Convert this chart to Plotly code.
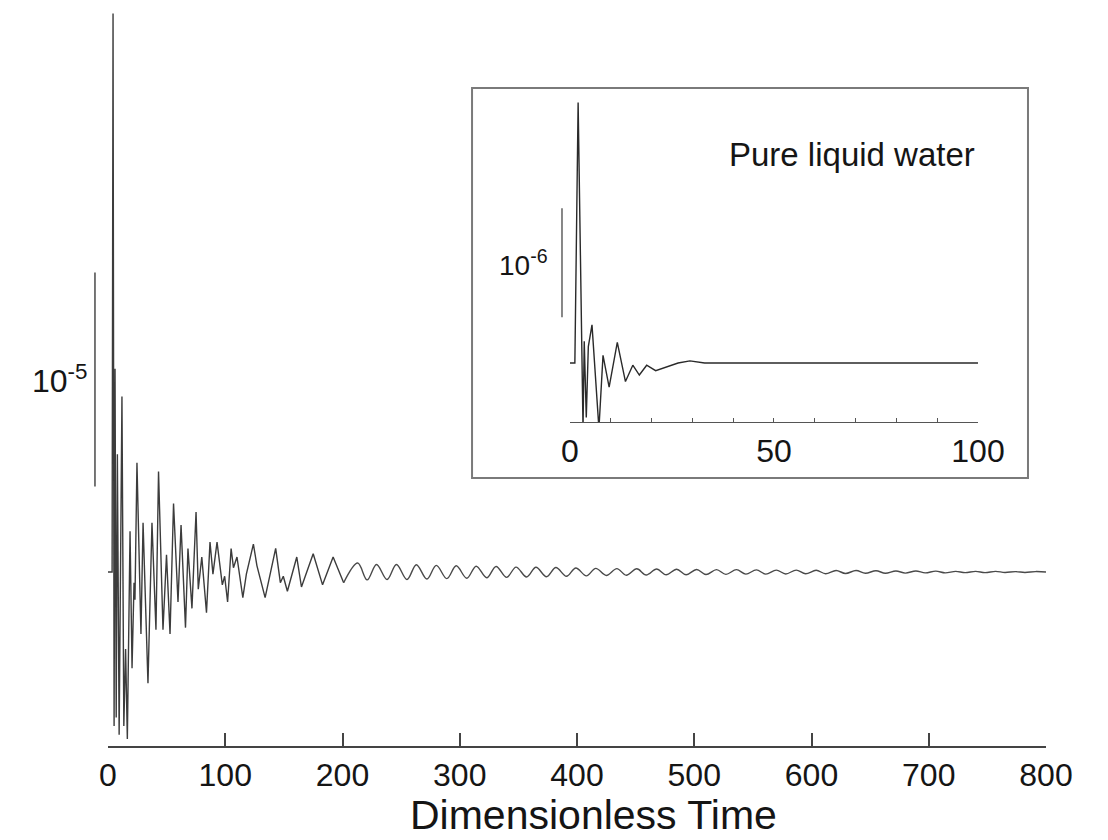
import plotly.graph_objects as go

# ---------------- data ----------------
# Main trace: signal in units of 1e-5 versus dimensionless time
main_time = [0, 3.5, 4.3, 5.2, 6.0, 7.0, 8.0, 9.5, 11.9, 13.5, 15.0, 16.5, 18.8, 20.5,
             22.2, 23.0, 24.7, 28.1, 29.9, 34.1, 37.5, 40.9, 43.1, 46.9, 49.9, 52.9,
             55.9, 59.7, 62.3, 66.1, 68.2, 71.6, 75.1, 77, 80, 84, 87, 89.5, 93, 97.5,
             99.5, 102, 105, 107, 110, 115, 118, 124, 127, 134, 143, 147, 149.5, 153,
             161, 165, 175, 183, 192, 201, 213, 221,
             229, 238, 246, 255, 263, 272, 280, 289, 297, 306, 314, 323, 331, 340,
             348, 357, 365, 374, 382, 391, 399, 408, 416, 425, 434, 442, 451, 459,
             468, 476, 485, 493, 502, 510, 519, 527, 536, 544, 553, 561, 570, 578,
             587, 595, 604, 612, 621, 629, 638, 646, 655, 663, 672, 680, 689, 697,
             706, 714, 723, 731, 740, 748, 757, 765, 774, 782, 791, 800]
main_signal = [0, 0, 2.61, -0.72, 0.95, -0.68, 0.55, -0.76, 0.82, -0.72, -0.36, -0.78,
               0.19, -0.45, -0.05, -0.13, 0.51, -0.29, 0.23, -0.52, 0.23, -0.27, 0.47,
               -0.27, 0.08, -0.29, 0.32, -0.14, 0.22, -0.26, 0.11, -0.17, 0.28, -0.08,
               0.07, -0.19, 0.14, -0.01, 0.14, -0.06, -0.02, -0.14, 0.11, 0.02, 0.07,
               -0.12, -0.01, 0.13, 0.03, -0.12, 0.11, -0.05, -0.02, -0.09, 0.07, -0.07,
               0.085, -0.06, 0.07, -0.05, 0.042, -0.037,
               0.035, -0.035, 0.035, -0.035, 0.034, -0.033, 0.031, -0.031, 0.029, -0.029,
               0.027, -0.027, 0.026, -0.025, 0.023, -0.023, 0.022, -0.022, 0.021, -0.020,
               0.019, -0.018, 0.017, -0.016, 0.016, -0.015, 0.015, -0.014, 0.014, -0.013,
               0.013, -0.013, 0.012, -0.012, 0.011, -0.011, 0.011, -0.010, 0.010, -0.010,
               0.009, -0.009, 0.009, -0.008, 0.008, -0.008, 0.007, -0.007, 0.007, -0.006,
               0.006, -0.006, 0.005, -0.005, 0.005, -0.004, 0.004, -0.004, 0.003, -0.003,
               0.003, -0.003, 0.003, -0.002, 0.002, -0.002, 0.002, 0.0]

# Inset trace: pure liquid water, signal in units of 1e-6
inset_time = [0, 1.2, 2.0, 3.2, 3.5, 4.0, 4.5, 5.4, 7.1, 8.1, 9.6, 11.6, 13.6, 15.4,
              17.0, 18.8, 21.0, 23.5, 26.5, 29.4, 33, 100]
inset_signal = [0, 0, 2.39, -0.6, 0.2, -0.5, 0.15, 0.35, -0.6, 0.07, -0.22, 0.19,
                -0.17, -0.02, -0.11, -0.02, -0.07, -0.04, 0.0, 0.02, 0.0, 0.0]

main_ticks = [0, 100, 200, 300, 400, 500, 600, 700, 800]
main_tick_labels = ["0", "100", "200", "300", "400", "500", "600", "700", "800"]
inset_ticks = [0, 10, 20, 30, 40, 50, 60, 70, 80, 90, 100]
inset_tick_labels = ["0", "", "", "", "", "50", "", "", "", "", "100"]

main_scale_bar = [0.4, 1.4]      # one unit of 1e-5
inset_scale_bar = [0.42, 1.42]   # one unit of 1e-6
main_scale_label = "10<sup>-5</sup>"
inset_scale_label = "10<sup>-6</sup>"
x_title = "Dimensionless Time"
inset_title = "Pure liquid water"

# ---------------- figure ----------------
FONT = "Liberation Sans, Arial, Helvetica, sans-serif"
INK = "#151515"
LINE = "#3c3c3c"

# early, spiky part drawn with straight segments; the later ringing drawn smooth
split = main_time.index(201)

fig = go.Figure()
fig.add_trace(go.Scatter(x=main_time[:split + 1], y=main_signal[:split + 1], mode="lines",
                         line=dict(color=LINE, width=1.4), xaxis="x", yaxis="y",
                         showlegend=False, hoverinfo="skip"))
fig.add_trace(go.Scatter(x=main_time[split:], y=main_signal[split:], mode="lines",
                         line=dict(color="#4a4a4a", width=1.4, shape="spline", smoothing=1.0),
                         xaxis="x", yaxis="y", showlegend=False, hoverinfo="skip"))
fig.add_trace(go.Scatter(x=inset_time, y=inset_signal, mode="lines",
                         line=dict(color="#2a2a2a", width=1.4), xaxis="x2", yaxis="y2",
                         showlegend=False, hoverinfo="skip"))

shapes = [
    # inset frame
    dict(type="rect", xref="paper", yref="paper", x0=0.3881, x1=0.9808, y0=0.3641, y1=0.894,
         line=dict(color="#7a7a7a", width=2), fillcolor="white", layer="below"),
    # main scale bar
    dict(type="line", xref="paper", yref="y", x0=-0.0139, x1=-0.0139,
         y0=main_scale_bar[0], y1=main_scale_bar[1], line=dict(color="#555555", width=1.6)),
    # inset scale bar
    dict(type="line", xref="paper", yref="y2", x0=0.4840, x1=0.4840,
         y0=inset_scale_bar[0], y1=inset_scale_bar[1], line=dict(color="#555555", width=1.4)),
]

annotations = [
    dict(text=main_scale_label, xref="paper", yref="y", x=-0.0192,
         y=(main_scale_bar[0] + main_scale_bar[1]) / 2, xanchor="right", yanchor="middle",
         showarrow=False, font=dict(family=FONT, size=32, color=INK)),
    dict(text=inset_scale_label, xref="paper", yref="y2", x=0.4712,
         y=(inset_scale_bar[0] + inset_scale_bar[1]) / 2, xanchor="right", yanchor="middle",
         showarrow=False, font=dict(family=FONT, size=28, color=INK)),
    dict(text=inset_title, xref="paper", yref="paper", x=0.7932, y=0.803,
         xanchor="center", yanchor="middle", showarrow=False,
         font=dict(family=FONT, size=33, color=INK)),
    dict(text=x_title, xref="paper", yref="paper", x=0.518, y=-0.094,
         xanchor="center", yanchor="middle", showarrow=False,
         font=dict(family=FONT, size=41, color=INK)),
]

fig.update_layout(
    width=1108, height=840,
    margin=dict(l=108, r=62, t=10, b=94),
    paper_bgcolor="white", plot_bgcolor="rgba(0,0,0,0)",
    shapes=shapes, annotations=annotations,
    xaxis=dict(range=[0, 800], domain=[0, 1], showgrid=False, zeroline=False,
               showline=True, linecolor="#444444", linewidth=1.5,
               ticks="inside", ticklen=13, tickwidth=1.5, tickcolor="#444444",
               tickvals=main_ticks, ticktext=main_tick_labels,
               tickfont=dict(family=FONT, size=32, color=INK)),
    yaxis=dict(range=[-0.813, 2.626], domain=[0, 1], visible=False),
    xaxis2=dict(range=[0, 100], domain=[0.4925, 0.9275], anchor="y2",
                showgrid=False, zeroline=False, showline=True, linecolor="#555555",
                linewidth=1.3, ticks="inside", ticklen=4, tickwidth=1.3,
                tickcolor="#555555", tickvals=inset_ticks, ticktext=inset_tick_labels,
                tickfont=dict(family=FONT, size=32, color=INK)),
    yaxis2=dict(range=[-0.541, 2.413], domain=[0.4402, 0.8777], anchor="x2",
                visible=False),
)

fig.write_html("out.html")
